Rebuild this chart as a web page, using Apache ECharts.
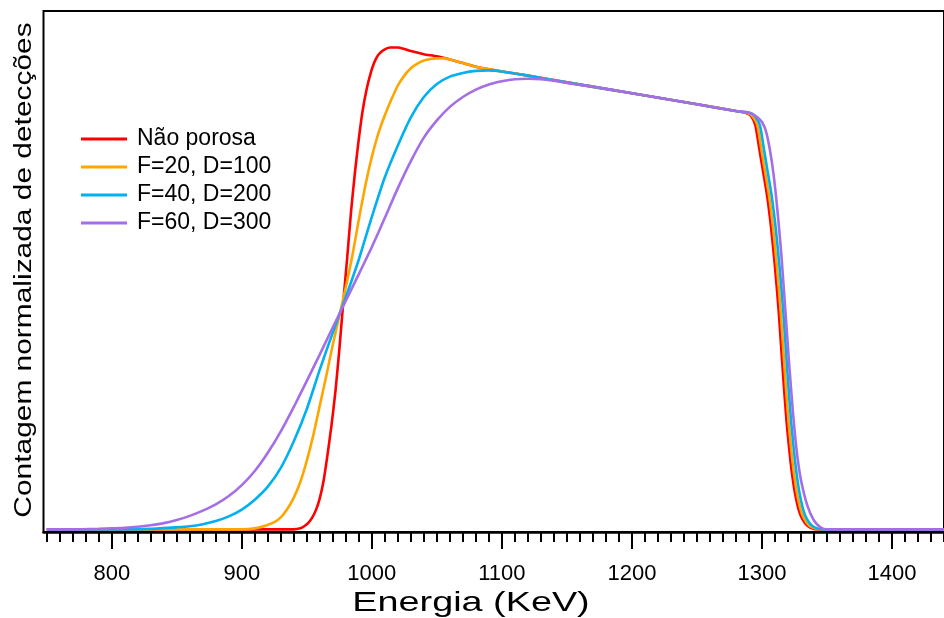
<!DOCTYPE html>
<html>
<head>
<meta charset="utf-8">
<script src="https://cdn.jsdelivr.net/npm/echarts@6/dist/echarts.min.js"></script>
<style>
  html, body { margin: 0; padding: 0; background: #ffffff; }
  #chart { width: 944px; height: 618px; }
</style>
</head>
<body>
<div id="chart"></div>
<script>
// Energy spectra (normalized counts) for a non-porous sample and three porous configurations.
const seriesNames = ['Não porosa', 'F=20, D=100', 'F=40, D=200', 'F=60, D=300'];
const seriesColors = ['#ff0000', '#ffa500', '#00b0f0', '#a66ee6'];

const naoPorosa = [
  [750, .005], [800, .005], [850, .005], [900, .005], [930, .005], [940, .005], [945, .007],
  [948, .011], [951, .017], [954, .027], [957, .042], [960, .065], [963, .10], [966, .15],
  [969, .205], [972, .27], [975, .35], [978, .44], [981, .525], [984, .615], [987, .69],
  [990, .755], [993, .81], [996, .85], [999, .88], [1002, .902], [1005, .916], [1009, .925],
  [1014, .930], [1020, .930], [1025, .927], [1030, .923], [1040, .917], [1050, .913],
  [1060, .907], [1070, .900], [1080, .893], [1090, .888], [1100, .884], [1120, .876],
  [1150, .863], [1200, .842], [1250, .821], [1280, .808], [1288, .804], [1292, .797],
  [1295, .78], [1298, .735], [1301, .69], [1304, .645], [1307, .585], [1310, .51],
  [1313, .42], [1316, .31], [1319, .21], [1322, .135], [1325, .08], [1328, .045],
  [1331, .025], [1335, .012], [1340, .006], [1345, .005], [1400, .005], [1440, .005]
];

const f20d100 = [
  [750, .005], [850, .005], [900, .005], [910, .007], [918, .012], [925, .019], [930, .028],
  [935, .044], [940, .066], [945, .096], [950, .137], [955, .186], [960, .243], [965, .30],
  [970, .36], [975, .415], [980, .47], [985, .53], [990, .60], [995, .665], [1000, .72],
  [1005, .765], [1010, .80], [1015, .83], [1020, .857], [1025, .876], [1030, .89], [1035, .899],
  [1040, .905], [1045, .908], [1050, .909], [1055, .909], [1060, .907], [1070, .900],
  [1080, .893], [1090, .888], [1100, .884], [1120, .876], [1150, .863], [1200, .842],
  [1250, .821], [1280, .808], [1289, .804], [1293, .797], [1296.5, .78], [1299.5, .735],
  [1302.5, .69], [1305.5, .645], [1308.5, .585], [1311.5, .51], [1314.5, .42], [1317.5, .31],
  [1320.5, .21], [1323.5, .135], [1326.5, .08], [1329.5, .045], [1332.5, .025], [1336.5, .012],
  [1341.5, .006], [1346, .005], [1400, .005], [1440, .005]
];

const f40d200 = [
  [750, .005], [800, .005], [830, .006], [850, .009], [860, .011], [870, .015], [880, .021],
  [890, .030], [900, .043], [910, .062], [920, .087], [930, .123], [940, .174], [950, .236],
  [960, .312], [970, .383], [980, .451], [990, .523], [1000, .605], [1010, .681], [1020, .742],
  [1030, .796], [1040, .835], [1050, .860], [1060, .874], [1070, .881], [1080, .885],
  [1090, .886], [1100, .884], [1110, .880], [1120, .876], [1150, .863], [1200, .842],
  [1250, .821], [1280, .808], [1291, .804], [1295, .797], [1298.5, .78], [1301.5, .735],
  [1304.5, .69], [1307.5, .645], [1310.5, .585], [1313.5, .51], [1316.5, .42], [1319.5, .31],
  [1322.5, .21], [1325.5, .135], [1328.5, .08], [1331.5, .045], [1334.5, .025], [1338.5, .012],
  [1343.5, .006], [1348, .005], [1400, .005], [1440, .005]
];

const f60d300 = [
  [750, .005], [770, .005], [790, .006], [800, .007], [810, .008], [820, .010], [830, .013],
  [840, .017], [850, .023], [860, .031], [870, .041], [880, .053], [890, .069], [900, .090],
  [910, .117], [920, .152], [930, .193], [940, .240], [950, .290], [960, .341], [970, .393],
  [980, .444], [990, .495], [1000, .547], [1010, .603], [1020, .660], [1030, .712], [1040, .757],
  [1050, .790], [1060, .816], [1070, .835], [1080, .849], [1090, .859], [1100, .865],
  [1110, .869], [1120, .870], [1130, .869], [1140, .866], [1150, .862], [1160, .858],
  [1170, .855], [1200, .842], [1250, .821], [1280, .808], [1290, .805], [1296, .797],
  [1300, .787], [1303, .77], [1306, .735], [1309, .685], [1312, .615], [1315, .53],
  [1318, .425], [1321, .32], [1324, .225], [1327, .15], [1330, .10], [1335, .05],
  [1340, .022], [1345, .009], [1350, .005], [1400, .005], [1440, .005]
];

const seriesData = [naoPorosa, f20d100, f40d200, f60d300];

// Axis ticks: labelled major ticks every 100 keV, minor ticks every 10 keV.
const majorTicks = [800, 900, 1000, 1100, 1200, 1300, 1400];
const minorTicks = [750, 760, 770, 780, 790, 810, 820, 830, 840, 850, 860, 870, 880, 890,
  910, 920, 930, 940, 950, 960, 970, 980, 990, 1010, 1020, 1030, 1040, 1050, 1060, 1070,
  1080, 1090, 1110, 1120, 1130, 1140, 1150, 1160, 1170, 1180, 1190, 1210, 1220, 1230, 1240,
  1250, 1260, 1270, 1280, 1290, 1310, 1320, 1330, 1340, 1350, 1360, 1370, 1380, 1390, 1410,
  1420, 1430, 1440];

const xTitle = 'Energia (KeV)';
const yTitle = 'Contagem normalizada de detecções';

const xMin = 747.5;
const xMax = 1440;
const FONT = '"Liberation Sans", Arial, sans-serif';

const chart = echarts.init(document.getElementById('chart'), null, { renderer: 'canvas' });

chart.setOption({
  animation: false,
  backgroundColor: '#ffffff',
  grid: {
    show: true, borderColor: '#000', borderWidth: 2, backgroundColor: 'transparent',
    left: 43.5, top: 11, width: 907.2, height: 521
  },
  legend: {
    orient: 'vertical',
    left: 81,
    top: 127,
    padding: 0,
    itemWidth: 46,
    itemHeight: 3,
    itemGap: 4,
    icon: 'rect',
    data: seriesNames,
    textStyle: { fontFamily: FONT, fontSize: 23, color: '#000', lineHeight: 24, padding: [0, 0, 0, 5] }
  },
  xAxis: [
    {
      type: 'value', min: xMin, max: xMax, position: 'bottom',
      axisLine: { show: true, lineStyle: { color: '#000', width: 2.5 } },
      splitLine: { show: false },
      axisTick: { show: true, customValues: majorTicks, length: 17, lineStyle: { color: '#000', width: 2 } },
      axisLabel: {
        show: true, customValues: majorTicks, margin: 31,
        fontFamily: FONT, fontSize: 22, color: '#000',
        formatter: (v) => String(v)
      }
    },
    {
      type: 'value', min: xMin, max: xMax, position: 'bottom',
      axisLine: { show: false },
      splitLine: { show: false },
      axisTick: { show: true, customValues: minorTicks, length: 10, lineStyle: { color: '#000', width: 2 } },
      axisLabel: { show: false }
    }
  ],
  yAxis: {
    type: 'value', min: 0, max: 1,
    axisLine: { show: false }, axisTick: { show: false }, axisLabel: { show: false },
    splitLine: { show: false }
  },
  graphic: [
    {
      type: 'text',
      x: 471, y: 603,
      scaleX: 1.35,
      style: {
        text: xTitle, font: '28px "Liberation Sans", Arial, sans-serif', fill: '#000',
        align: 'center', verticalAlign: 'middle'
      }
    },
    {
      type: 'text',
      x: 25, y: 270,
      rotation: Math.PI / 2,
      scaleX: 1.3,
      style: {
        text: yTitle, font: '23px "Liberation Sans", Arial, sans-serif', fill: '#000',
        align: 'center', verticalAlign: 'middle'
      }
    }
  ],
  series: seriesNames.map((name, i) => ({
    name: name,
    type: 'line',
    data: seriesData[i],
    showSymbol: false,
    smooth: 0.2,
    color: seriesColors[i],
    lineStyle: { width: 2.6, color: seriesColors[i] },
    z: 2 + i
  }))
});
</script>
</body>
</html>
